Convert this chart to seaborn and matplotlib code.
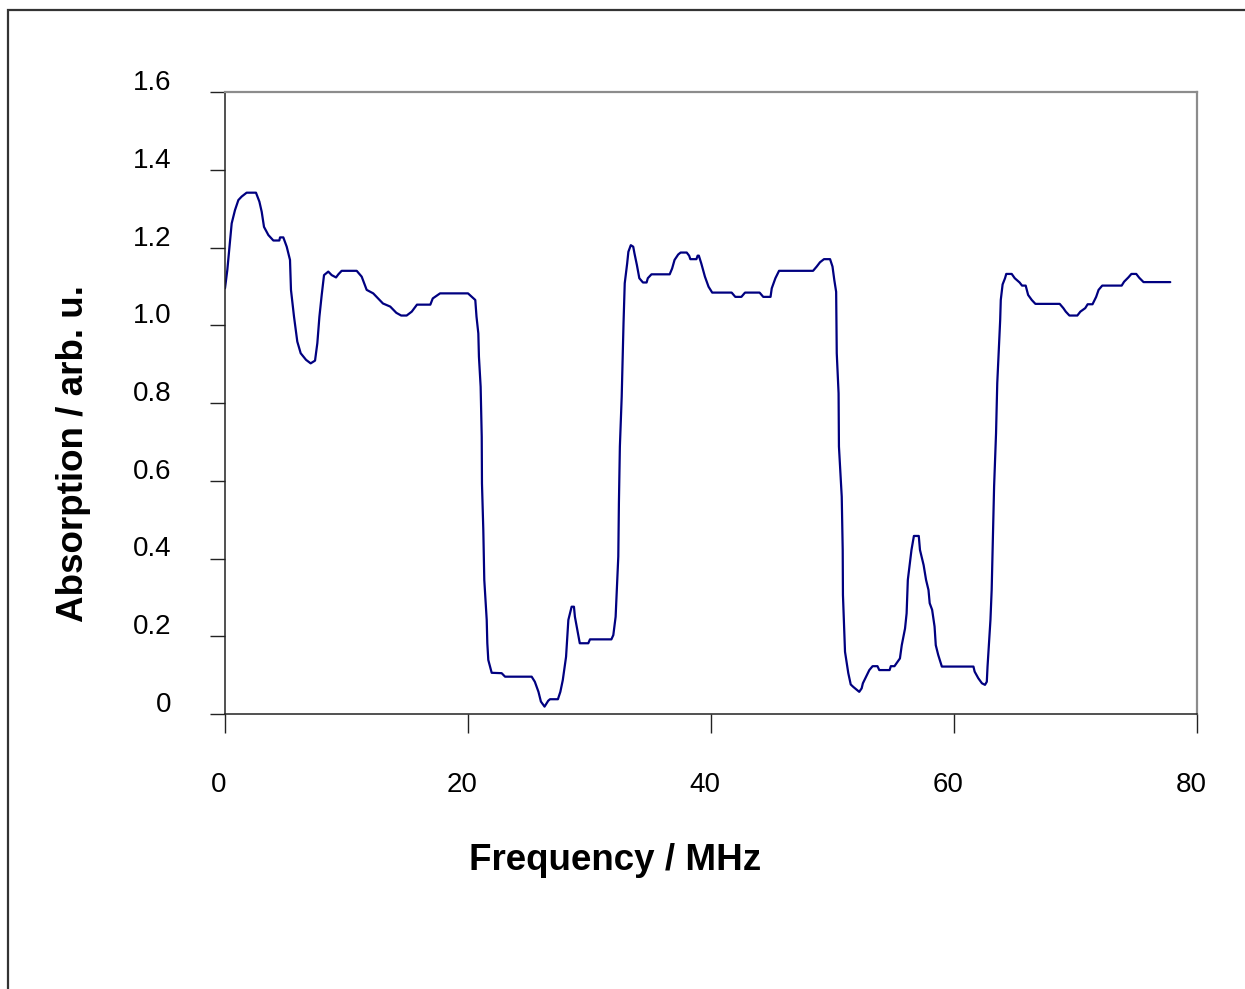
import pandas as pd
import seaborn as sns
import matplotlib.pyplot as plt
import matplotlib.transforms as mtransforms
from matplotlib.patches import Rectangle

# traced spectrum (frequency in MHz, absorption in arb. u.)
freq = [0.0, 0.19, 0.55, 0.82, 1.1, 1.37, 1.78, 2.55, 2.83, 3.02, 3.21, 3.57, 3.98, 4.47, 4.53, 4.8,
        5.08, 5.35, 5.43, 5.68, 5.95, 6.23, 6.67, 7.05, 7.41, 7.6, 7.77, 7.96, 8.15, 8.5, 8.78, 9.14,
        9.33, 9.6, 10.84, 11.25, 11.66, 12.2, 13.0, 13.6, 14.1, 14.5, 14.95, 15.37, 15.8, 16.9, 17.1,
        17.7, 20.0, 20.6, 20.7, 20.85, 20.9, 21.04, 21.13, 21.15, 21.26, 21.34, 21.54, 21.59, 21.67,
        21.95, 22.77, 23.05, 25.24, 25.5, 25.8, 26.0, 26.3, 26.6, 26.75, 27.4, 27.6, 27.8, 28.07,
        28.26, 28.53, 28.72, 28.8, 29.0, 29.2, 29.9, 30.04, 31.8, 31.96, 32.15, 32.37, 32.42, 32.5,
        32.65, 32.8, 32.9, 33.1, 33.2, 33.4, 33.6, 33.7, 33.9, 34.1, 34.4, 34.7, 34.8, 35.1, 36.6,
        36.8, 37.0, 37.3, 37.5, 38.0, 38.2, 38.3, 38.8, 38.9, 39.0, 39.2, 39.5, 39.8, 40.1, 41.7,
        42.0, 42.5, 42.8, 44.0, 44.3, 44.9, 45.0, 45.3, 45.6, 48.4, 48.7, 48.97, 49.3, 49.8, 50.0,
        50.15, 50.3, 50.35, 50.5, 50.53, 50.76, 50.84, 50.86, 51.03, 51.3, 51.5, 51.7, 52.0, 52.2,
        52.4, 52.5, 52.76, 53.03, 53.3, 53.7, 53.85, 54.7, 54.8, 55.1, 55.3, 55.55, 55.7, 55.97,
        56.1, 56.2, 56.4, 56.5, 56.7, 57.1, 57.2, 57.5, 57.7, 57.9, 58.0, 58.2, 58.4, 58.5, 58.7,
        59.0, 61.6, 61.7, 62.0, 62.3, 62.55, 62.7, 62.76, 63.0, 63.1, 63.2, 63.3, 63.46, 63.56,
        63.8, 63.85, 64.0, 64.2, 64.3, 64.75, 65.0, 65.4, 65.6, 65.9, 66.1, 66.4, 66.7, 68.7, 69.0,
        69.2, 69.5, 70.15, 70.4, 70.8, 71.0, 71.4, 71.7, 71.9, 72.2, 73.8, 74.0, 74.35, 74.6, 75.0,
        75.25, 75.6, 77.8]
absorption = [1.095, 1.142, 1.262, 1.296, 1.322, 1.331, 1.341, 1.341, 1.318, 1.292, 1.253, 1.232,
              1.218, 1.218, 1.226, 1.226, 1.202, 1.168, 1.091, 1.022, 0.958, 0.928, 0.911, 0.902,
              0.909, 0.954, 1.022, 1.078, 1.129, 1.138, 1.129, 1.123, 1.131, 1.140, 1.140, 1.125,
              1.091, 1.082, 1.056, 1.048, 1.032, 1.025, 1.025, 1.035, 1.053, 1.053, 1.069, 1.082,
              1.082, 1.065, 1.022, 0.979, 0.919, 0.842, 0.713, 0.593, 0.473, 0.345, 0.242, 0.182,
              0.139, 0.106, 0.105, 0.096, 0.096, 0.083, 0.057, 0.032, 0.019, 0.034, 0.038, 0.038,
              0.057, 0.087, 0.147, 0.242, 0.276, 0.276, 0.25, 0.216, 0.182, 0.182, 0.192, 0.192,
              0.203, 0.25, 0.405, 0.542, 0.688, 0.816, 1.005, 1.108, 1.159, 1.189, 1.206, 1.202,
              1.185, 1.155, 1.121, 1.110, 1.110, 1.121, 1.131, 1.131, 1.146, 1.168, 1.182, 1.187,
              1.187, 1.179, 1.170, 1.170, 1.179, 1.179, 1.159, 1.125, 1.099, 1.084, 1.084, 1.073,
              1.073, 1.084, 1.084, 1.073, 1.073, 1.095, 1.121, 1.140, 1.140, 1.151, 1.162, 1.170,
              1.170, 1.151, 1.116, 1.086, 0.928, 0.825, 0.688, 0.559, 0.422, 0.306, 0.160, 0.105,
              0.076, 0.070, 0.062, 0.057, 0.066, 0.079, 0.096, 0.113, 0.123, 0.123, 0.113, 0.113,
              0.123, 0.123, 0.132, 0.143, 0.177, 0.220, 0.259, 0.345, 0.396, 0.422, 0.458, 0.458,
              0.422, 0.383, 0.345, 0.319, 0.285, 0.268, 0.225, 0.177, 0.152, 0.122, 0.122, 0.109,
              0.092, 0.079, 0.075, 0.083, 0.122, 0.242, 0.319, 0.448, 0.585, 0.722, 0.851, 1.013,
              1.065, 1.105, 1.121, 1.132, 1.132, 1.121, 1.110, 1.102, 1.102, 1.078, 1.065, 1.055,
              1.055, 1.044, 1.035, 1.025, 1.025, 1.035, 1.044, 1.054, 1.054, 1.073, 1.091, 1.102,
              1.102, 1.112, 1.123, 1.132, 1.132, 1.122, 1.111, 1.111]

x_ticks = [0, 20, 40, 60, 80]
y_ticks = [0, 0.2, 0.4, 0.6, 0.8, 1.0, 1.2, 1.4, 1.6]
y_labels = ["0", "0.2", "0.4", "0.6", "0.8", "1.0", "1.2", "1.4", "1.6"]

df = pd.DataFrame({"freq": freq, "absorption": absorption})

sns.set_style("ticks", {"text.color": "black", "axes.labelcolor": "black",
                        "xtick.color": "black", "ytick.color": "black"})
plt.rcParams['font.family'] = ['Liberation Sans', 'DejaVu Sans']

fig = plt.figure(figsize=(12.45, 9.89), dpi=100, facecolor="white")
ax = fig.add_axes([225 / 1245, 1 - 714 / 989, 972 / 1245, 622 / 989])

sns.lineplot(data=df, x="freq", y="absorption", ax=ax, color="#000080",
             linewidth=1.6, sort=False, estimator=None)

ax.set_xlim(0, 80)
ax.set_ylim(0, 1.6)
ax.set_xticks(x_ticks)
ax.set_yticks(y_ticks)
ax.set_yticklabels(y_labels)

ax.tick_params(axis="y", length=10.8, width=1.0, pad=28, labelsize=20,
               color="#222222", labelcolor="black")
ax.tick_params(axis="x", length=13.7, width=1.0, pad=28, labelsize=20,
               color="#222222", labelcolor="black")

# excel style label offsets
up = mtransforms.ScaledTranslation(0, 12 / 100, fig.dpi_scale_trans)
for lab in ax.get_yticklabels():
    lab.set_transform(lab.get_transform() + up)
left = mtransforms.ScaledTranslation(-6 / 100, 0, fig.dpi_scale_trans)
for lab in ax.get_xticklabels():
    lab.set_transform(lab.get_transform() + left)

for side in ["left", "bottom"]:
    ax.spines[side].set_color("#222222")
    ax.spines[side].set_linewidth(1.1)
for side in ["top", "right"]:
    ax.spines[side].set_visible(True)
    ax.spines[side].set_color("#8c8c8c")
    ax.spines[side].set_linewidth(1.6)

ax.set_xlabel("Frequency / MHz", fontsize=26.5, fontweight="bold", color="black")
ax.set_ylabel("Absorption / arb. u.", fontsize=26.5, fontweight="bold", color="black")
ax.xaxis.set_label_coords((615.5 - 225) / 972, (714 - 861) / 622)
ax.xaxis.label.set_va("center")
ax.yaxis.set_label_coords((74 - 225) / 972, (714 - 453.5) / 622)
ax.yaxis.label.set_va("center")

# chart frame
frame = Rectangle((8 / 1245, -0.1), 1.2, 1.1 - 10 / 989, transform=fig.transFigure,
                  fill=False, edgecolor="#333333", linewidth=1.6, clip_on=False)
fig.patches.append(frame)

plt.savefig("out.png", dpi=100, facecolor="white")
